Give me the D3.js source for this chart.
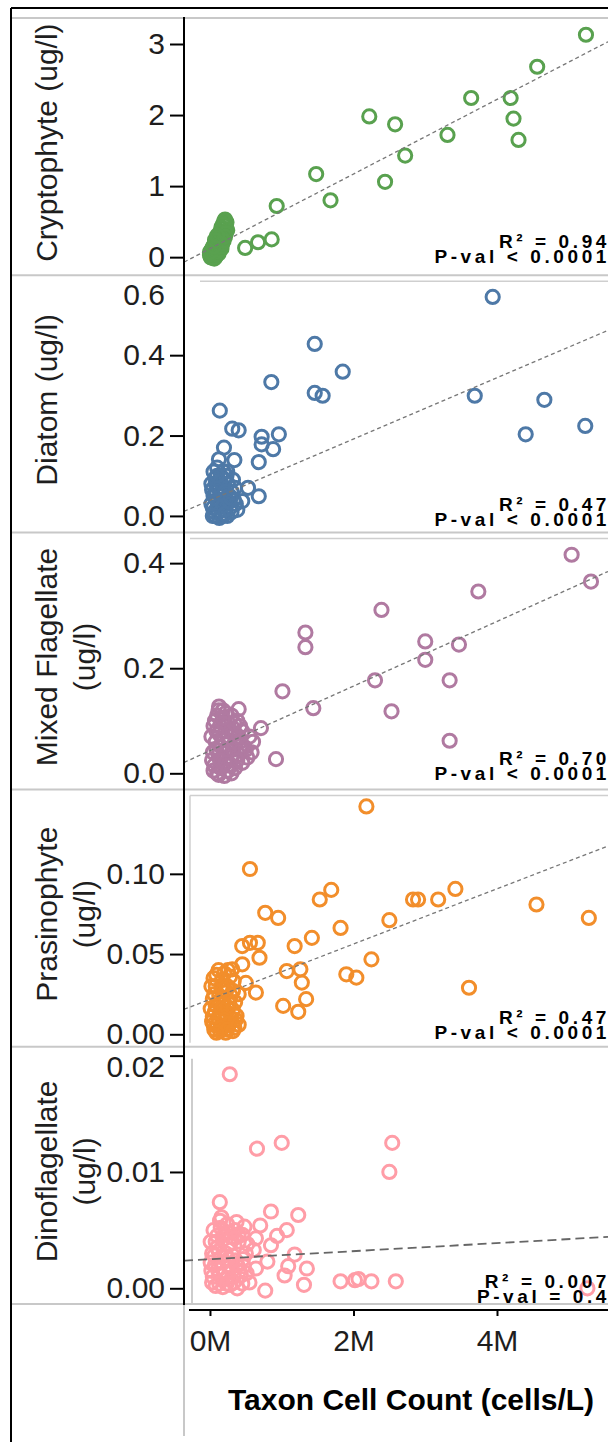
<!DOCTYPE html>
<html>
<head>
<meta charset="utf-8">
<script src="https://cdn.jsdelivr.net/npm/d3@7"></script>
<style>
  body { margin: 0; background: #fff; }
  text { font-family: "Liberation Sans", Arial, sans-serif; }
</style>
</head>
<body>
<div id="chart"></div>
<script>
// ---- data (x in millions of cells/L) ----
const panelNames = ["Cryptophyte", "Diatom", "Mixed Flagellate", "Prasinophyte", "Dinoflagellate"];
const yLabelLines = [["Cryptophyte (ug/l)"], ["Diatom (ug/l)"], ["Mixed Flagellate", "(ug/l)"], ["Prasinophyte", "(ug/l)"], ["Dinoflagellate", "(ug/l)"]];
const yDomains = [[-0.254, 3.366], [-0.041, 0.599], [-0.031, 0.4585], [-0.0078, 0.1525], [-0.00135, 0.02076]];
const yTickValues = [[0, 1, 2, 3], [0, 0.2, 0.4, 0.6], [0, 0.2, 0.4], [0, 0.05, 0.10], [0, 0.01, 0.02]];
const yTickFormats = ["d", ".1f", ".1f", ".2f", ".2f"];
const xTickValues = [0, 2, 4];
const seriesColors = ["#59a14f", "#4e79a7", "#b07aa1", "#f28e2b", "#ff9da7"];
const fitIntercept = [0.12, 0.039, 0.043, 0.0218, 0.0025];
const fitSlope = [0.525, 0.0762, 0.0615, 0.01722, 0.000346];
const r2Labels = ["R\u00b2 = 0.94", "R\u00b2 = 0.47", "R\u00b2 = 0.70", "R\u00b2 = 0.47", "R\u00b2 = 0.007"];
const pLabels = ["P-val < 0.0001", "P-val < 0.0001", "P-val < 0.0001", "P-val < 0.0001", "P-val = 0.4"];

const cryptophytePts = [
  [5.24, 3.13], [4.56, 2.68], [3.64, 2.24], [4.19, 2.24], [4.23, 1.95], [4.30, 1.65], [3.31, 1.72],
  [2.22, 1.98], [2.58, 1.87], [2.72, 1.43], [2.44, 1.06], [1.48, 1.17], [1.68, 0.80], [0.93, 0.72],
  [0.86, 0.25], [0.67, 0.21], [0.49, 0.13],
  [0.21, 0.53], [0.20, 0.47], [0.22, 0.44], [0.18, 0.40], [0.16, 0.36], [0.19, 0.33], [0.14, 0.30],
  [0.17, 0.27], [0.12, 0.25], [0.15, 0.22], [0.10, 0.20], [0.13, 0.17], [0.08, 0.16], [0.11, 0.13],
  [0.06, 0.12], [0.09, 0.10], [0.04, 0.09], [0.07, 0.07], [0.02, 0.06], [0.05, 0.04], [0.03, 0.02],
  [0.08, 0.01], [0.01, 0.00], [0.12, 0.05], [0.16, 0.12], [0.24, 0.38], [0.23, 0.49], [0.06, -0.02],
  [0.00, 0.03], [0.02, 0.10], [0.04, 0.14], [0.06, 0.18], [0.08, 0.22], [0.10, 0.27], [0.12, 0.31],
  [0.14, 0.35], [0.16, 0.42], [0.18, 0.46], [0.20, 0.51], [0.03, -0.01], [0.09, 0.04], [0.11, 0.08],
  [0.13, 0.10], [0.15, 0.15], [0.17, 0.19], [0.19, 0.23], [0.21, 0.29], [0.22, 0.34], [0.00, 0.07],
  [0.05, 0.15], [0.07, 0.24], [0.10, 0.30]
];
const diatomPts = [
  [3.94, 0.545], [1.46, 0.428], [0.855, 0.333], [1.85, 0.359], [1.46, 0.306], [1.57, 0.299], [3.69, 0.299],
  [4.66, 0.289], [4.40, 0.203], [5.23, 0.224], [0.137, 0.262], [0.31, 0.217], [0.40, 0.213], [0.72, 0.197],
  [0.72, 0.178], [0.96, 0.203], [0.88, 0.166], [0.68, 0.134], [0.195, 0.17], [0.125, 0.141], [0.34, 0.139],
  [0.68, 0.049], [0.45, 0.037], [0.53, 0.07],
  [0.05, 0.11], [0.10, 0.12], [0.15, 0.10], [0.20, 0.09], [0.08, 0.08], [0.13, 0.07], [0.25, 0.08],
  [0.30, 0.06], [0.05, 0.05], [0.10, 0.04], [0.18, 0.05], [0.22, 0.03], [0.28, 0.02], [0.33, 0.04],
  [0.04, 0.02], [0.12, 0.01], [0.17, 0.00], [0.07, 0.00], [0.24, 0.00], [0.30, 0.01], [0.02, 0.08],
  [0.15, 0.03], [0.20, 0.015], [0.09, 0.06],
  [0.02, 0.03], [0.06, 0.01], [0.11, 0.07], [0.16, 0.06], [0.19, 0.11], [0.23, 0.10], [0.27, 0.05],
  [0.32, 0.09], [0.36, 0.03], [0.03, 0.065], [0.08, 0.095], [0.14, 0.085], [0.21, 0.06], [0.26, 0.035],
  [0.18, 0.025], [0.11, 0.025], [0.04, 0.00], [0.13, -0.005], [0.21, 0.005], [0.29, 0.045], [0.35, 0.07],
  [0.24, 0.11], [0.10, 0.10], [0.38, 0.015]
];
const mixedPts = [
  [5.04, 0.416], [5.31, 0.365], [3.74, 0.346], [2.39, 0.311], [1.33, 0.268], [1.33, 0.24], [3.00, 0.251],
  [3.47, 0.245], [3.00, 0.216], [2.30, 0.177], [3.34, 0.177], [1.01, 0.156], [1.44, 0.124], [2.53, 0.118],
  [3.34, 0.062], [0.92, 0.027], [0.71, 0.086], [0.126, 0.127], [0.40, 0.122],
  [0.10, 0.11], [0.18, 0.12], [0.30, 0.11], [0.38, 0.10], [0.05, 0.09], [0.14, 0.09], [0.22, 0.08],
  [0.33, 0.085], [0.45, 0.08], [0.55, 0.07], [0.08, 0.06], [0.17, 0.065], [0.27, 0.06], [0.36, 0.055],
  [0.48, 0.05], [0.60, 0.06], [0.04, 0.04], [0.12, 0.035], [0.20, 0.04], [0.30, 0.03], [0.40, 0.035],
  [0.52, 0.03], [0.06, 0.015], [0.15, 0.01], [0.25, 0.015], [0.35, 0.01], [0.10, 0.00], [0.20, -0.005],
  [0.30, 0.00], [0.45, 0.02],
  [0.02, 0.07], [0.07, 0.10], [0.12, 0.12], [0.22, 0.115], [0.26, 0.095], [0.35, 0.075], [0.42, 0.06],
  [0.50, 0.045], [0.58, 0.04], [0.03, 0.025], [0.09, 0.045], [0.16, 0.05], [0.24, 0.045], [0.32, 0.045],
  [0.44, 0.045], [0.13, 0.075], [0.19, 0.095], [0.28, 0.08], [0.40, 0.07], [0.05, 0.005], [0.14, 0.025],
  [0.22, 0.02], [0.29, 0.015], [0.38, 0.025], [0.12, -0.003], [0.25, 0.005], [0.09, 0.08], [0.34, 0.095],
  [0.42, 0.09], [0.18, 0.105]
];
const prasinophytePts = [
  [2.18, 0.142], [0.557, 0.103], [1.69, 0.090], [1.53, 0.084], [0.77, 0.0757], [0.95, 0.0725], [1.82, 0.0663],
  [2.50, 0.0711], [2.83, 0.084], [2.90, 0.084], [3.18, 0.084], [3.42, 0.0906], [4.55, 0.0809], [5.28, 0.0725],
  [1.42, 0.0601], [1.18, 0.055], [2.25, 0.0467], [1.90, 0.0374], [2.04, 0.0353], [3.61, 0.029], [1.07, 0.0394],
  [1.26, 0.0405], [1.28, 0.0322], [1.34, 0.0219], [1.02, 0.0177], [1.23, 0.014], [0.557, 0.057], [0.666, 0.057],
  [0.449, 0.055], [0.69, 0.0477], [0.64, 0.026], [0.50, 0.032], [0.45, 0.0436], [0.31, 0.0405], [0.37, 0.0115],
  [0.05, 0.035], [0.12, 0.04], [0.20, 0.038], [0.28, 0.036], [0.08, 0.03], [0.16, 0.028], [0.24, 0.03],
  [0.32, 0.027], [0.04, 0.022], [0.11, 0.02], [0.19, 0.022], [0.27, 0.019], [0.35, 0.02], [0.07, 0.014],
  [0.14, 0.012], [0.22, 0.013], [0.30, 0.01], [0.03, 0.008], [0.10, 0.006], [0.18, 0.005], [0.26, 0.006],
  [0.34, 0.004], [0.06, 0.003], [0.14, 0.002], [0.22, 0.001],
  [0.02, 0.03], [0.09, 0.037], [0.17, 0.034], [0.25, 0.04], [0.33, 0.033], [0.06, 0.025], [0.13, 0.024],
  [0.21, 0.026], [0.29, 0.024], [0.01, 0.016], [0.08, 0.018], [0.16, 0.016], [0.24, 0.017], [0.32, 0.015],
  [0.04, 0.011], [0.12, 0.009], [0.20, 0.009], [0.28, 0.007], [0.36, 0.009], [0.05, 0.006], [0.15, 0.004],
  [0.24, 0.003], [0.32, 0.002], [0.09, 0.001], [0.40, 0.006], [0.40, 0.025]
];
const dinoflagellatePts = [
  [0.276, 0.0184], [0.655, 0.0120], [1.0, 0.0125], [2.54, 0.0125], [2.50, 0.0100], [0.137, 0.0074],
  [0.85, 0.0066], [1.23, 0.0063], [0.16, 0.0061], [0.37, 0.0057], [0.48, 0.0053], [0.70, 0.0054],
  [1.07, 0.0050], [0.935, 0.0045], [1.18, 0.0029], [1.09, 0.0019], [1.35, 0.0017], [1.04, 0.0011],
  [1.31, 0.0003], [0.77, -0.0002], [1.82, 0.0006], [2.02, 0.0007], [2.07, 0.0008], [2.25, 0.0006],
  [2.59, 0.0006], [5.26, 0.0], [0.64, 0.0043], [0.85, 0.0037], [0.61, 0.0033], [0.80, 0.0023], [0.64, 0.0017],
  [0.05, 0.005], [0.15, 0.0052], [0.25, 0.0048], [0.35, 0.005], [0.45, 0.0046], [0.08, 0.004], [0.18, 0.0042],
  [0.28, 0.0038], [0.40, 0.004], [0.03, 0.003], [0.12, 0.0032], [0.22, 0.003], [0.32, 0.0028], [0.50, 0.003],
  [0.07, 0.002], [0.17, 0.0022], [0.27, 0.0018], [0.38, 0.002], [0.47, 0.0019], [0.04, 0.001], [0.13, 0.0012],
  [0.23, 0.0009], [0.33, 0.001], [0.43, 0.0011], [0.08, 0.0002], [0.18, 0.0001], [0.28, 0.0003], [0.38, 0.0],
  [0.55, 0.0005], [0.10, 0.0035],
  [0.01, 0.004], [0.10, 0.0045], [0.20, 0.0046], [0.30, 0.0044], [0.40, 0.0046], [0.06, 0.0028],
  [0.16, 0.0027], [0.26, 0.0025], [0.36, 0.0024], [0.46, 0.0025], [0.02, 0.0015], [0.11, 0.0016],
  [0.21, 0.0014], [0.31, 0.0015], [0.41, 0.0015], [0.51, 0.0013], [0.03, 0.0005], [0.13, 0.0004],
  [0.23, 0.0004], [0.33, 0.0005], [0.45, 0.0004], [0.01, 0.0022], [0.52, 0.0038], [0.14, 0.0058],
  [0.24, 0.0055], [0.34, 0.0043]
];
const seriesPts = [cryptophytePts, diatomPts, mixedPts, prasinophytePts, dinoflagellatePts];

// ---- layout ----
const width = 608, height = 1442;
const plotLeft = 184, plotRight = 608;
const panelTop0 = 18, panelH = 257.2;
const pValDy = [-12, -6, -10, -8, -1];

const svg = d3.select("#chart")
    .append("svg")
    .attr("width", width)
    .attr("height", height);

const x = d3.scaleLinear()
    .domain([-0.362, 5.547])
    .range([plotLeft, plotRight]);

// outer frame
svg.append("line").attr("x1", 11).attr("x2", 11).attr("y1", 8).attr("y2", height)
    .attr("stroke", "#000").attr("stroke-width", 2);
svg.append("line").attr("x1", 11).attr("x2", width).attr("y1", 8).attr("y2", 8)
    .attr("stroke", "#000").attr("stroke-width", 2);

// panel separators
svg.selectAll(".sep")
    .data(d3.range(6))
    .join("line")
    .attr("class", "sep")
    .attr("x1", 12).attr("x2", width)
    .attr("y1", i => panelTop0 + i * panelH)
    .attr("y2", i => panelTop0 + i * panelH)
    .attr("stroke", "#c8c8c8")
    .attr("stroke-width", 2);

panelNames.forEach((name, i) => {
    const top = panelTop0 + i * panelH;
    const bottom = top + panelH;
    const g = svg.append("g").attr("class", "panel");

    const y = d3.scaleLinear()
        .domain(yDomains[i])
        .range([bottom, top]);

    const clipId = "clip" + i;
    svg.append("clipPath").attr("id", clipId)
        .append("rect")
        .attr("x", plotLeft + 1).attr("y", top + 1)
        .attr("width", plotRight - plotLeft).attr("height", panelH - 2);

    const plot = g.append("g").attr("clip-path", `url(#${clipId})`);

    // light frame pieces left by the source graph builder
    if (i === 1) {
        plot.append("line").attr("x1", 200).attr("x2", width).attr("y1", top + 6).attr("y2", top + 6)
            .attr("stroke", "#cfcfcf").attr("stroke-width", 1.5);
    }
    if (i === 2 || i === 3) {
        plot.append("line").attr("x1", 190).attr("x2", width).attr("y1", top + 6).attr("y2", top + 6)
            .attr("stroke", "#cfcfcf").attr("stroke-width", 1.5);
    }
    if (i === 3) {
        plot.append("line").attr("x1", 190).attr("x2", 190).attr("y1", top + 6).attr("y2", bottom - 4)
            .attr("stroke", "#cfcfcf").attr("stroke-width", 1.5);
    }
    if (i === 4) {
        plot.append("line").attr("x1", 192).attr("x2", 192).attr("y1", top + 12).attr("y2", bottom)
            .attr("stroke", "#bdbdbd").attr("stroke-width", 1.5);
    }

    // points
    plot.selectAll("circle")
        .data(seriesPts[i])
        .join("circle")
        .attr("cx", d => x(d[0]))
        .attr("cy", d => y(d[1]))
        .attr("r", 6.6)
        .attr("fill", "none")
        .attr("stroke", seriesColors[i])
        .attr("stroke-width", 3);

    // fit line
    const fitLine = d3.line()
        .x(d => x(d))
        .y(d => y(fitIntercept[i] + fitSlope[i] * d));
    plot.append("path")
        .datum(x.domain())
        .attr("d", fitLine)
        .attr("fill", "none")
        .attr("stroke", i === 4 ? "#666" : "#777")
        .attr("stroke-width", i === 4 ? 1.8 : 1.3)
        .attr("stroke-dasharray", i === 4 ? "9,5" : "4,3");

    // stats text
    const pY = bottom + pValDy[i];
    const stats = g.append("g")
        .attr("font-weight", "bold")
        .attr("font-size", "19px")
        .attr("text-anchor", "end")
        .style("letter-spacing", "3.6px");
    stats.append("text").attr("x", 610).attr("y", pY - 15).text(r2Labels[i]);
    stats.append("text").attr("x", 610).attr("y", pY).text(pLabels[i]);

    // y axis
    const yAxis = g.append("g")
        .attr("transform", `translate(${plotLeft},0)`)
        .call(d3.axisLeft(y)
            .tickValues(yTickValues[i])
            .tickFormat(d3.format(yTickFormats[i]))
            .tickSize(14)
            .tickPadding(5));
    yAxis.select(".domain").remove();
    yAxis.selectAll(".tick line")
        .attr("stroke", "#000")
        .attr("stroke-width", 2)
        .style("display", d => (y(d) < top + 3 ? "none" : null));
    yAxis.selectAll(".tick text")
        .attr("fill", "#1e1e1e")
        .style("font-size", "30px")
        .style("font-family", "'Liberation Sans', Arial, sans-serif")
        .attr("y", d => Math.max(0, top + 20 - y(d)));

    // y title
    const cy = (top + bottom) / 2 - 4;
    const title = g.append("text")
        .attr("transform", `translate(57,${cy}) rotate(-90)`)
        .attr("text-anchor", "middle")
        .attr("fill", "#1e1e1e")
        .style("font-size", "30px");
    yLabelLines[i].forEach((line, k) => {
        title.append("tspan")
            .attr("x", 0)
            .attr("dy", k === 0 ? 0 : 38)
            .text(line);
    });
});

// y axis spine
svg.append("line").attr("x1", plotLeft).attr("x2", plotLeft).attr("y1", 17).attr("y2", 1305)
    .attr("stroke", "#000").attr("stroke-width", 2);
svg.append("line").attr("x1", plotLeft).attr("x2", plotLeft).attr("y1", 1305).attr("y2", 1436)
    .attr("stroke", "#c8c8c8").attr("stroke-width", 2);

// x axis
const xAxisY = 1310;
const xAxis = svg.append("g")
    .attr("transform", `translate(0,${xAxisY})`)
    .call(d3.axisBottom(x)
        .tickValues(xTickValues)
        .tickFormat(d => d + "M")
        .tickSize(6)
        .tickPadding(14));
xAxis.select(".domain").remove();
xAxis.selectAll(".tick line").attr("stroke", "#000").attr("stroke-width", 2);
xAxis.selectAll(".tick text")
    .attr("fill", "#1e1e1e")
    .style("font-size", "30px")
    .style("font-family", "'Liberation Sans', Arial, sans-serif");
svg.append("line").attr("x1", 189).attr("x2", width).attr("y1", xAxisY).attr("y2", xAxisY)
    .attr("stroke", "#000").attr("stroke-width", 2);

// x title
svg.append("text")
    .attr("x", 411)
    .attr("y", 1410)
    .attr("text-anchor", "middle")
    .attr("font-weight", "bold")
    .style("font-size", "30px")
    .text("Taxon Cell Count (cells/L)");
</script>
</body>
</html>
